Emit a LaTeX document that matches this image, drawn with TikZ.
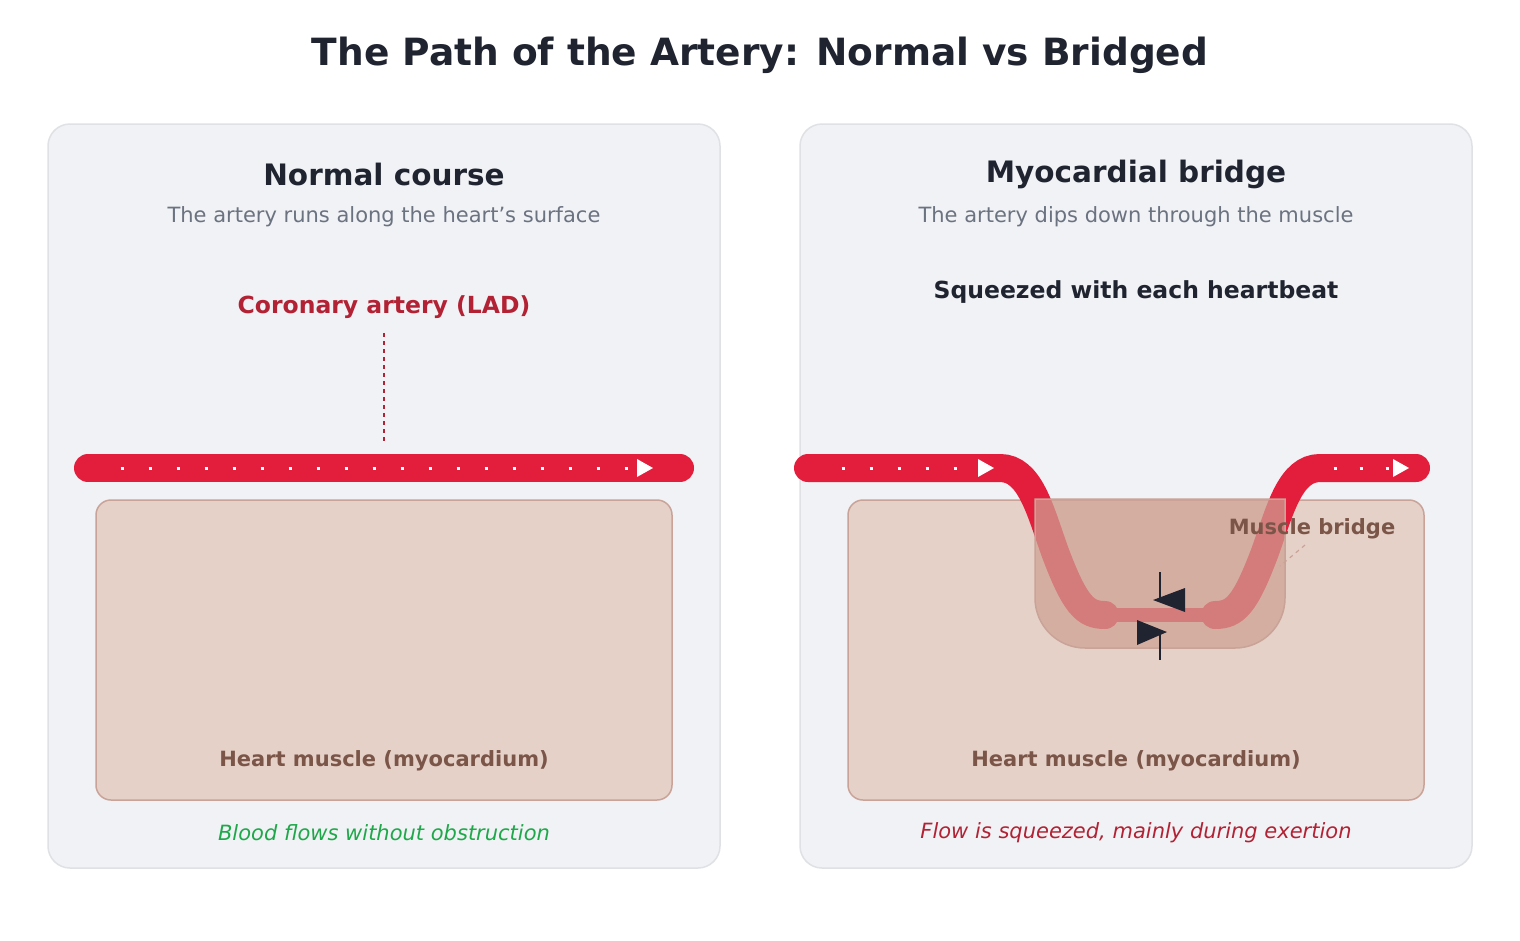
\documentclass[tikz,border=0pt]{standalone}
\usepackage{fontspec}
\setmainfont{DejaVu Sans}
\begin{document}
\begin{tikzpicture}[x=1pt,y=-1pt,
  panel/.style={draw=panelbd,fill=panelbg,line width=1.5pt,rounded corners=22pt},
  muscle/.style={draw=musclebd,fill=musclebg,line width=1.5pt,rounded corners=15pt},
  artery/.style={draw=art,line width=28pt,line cap=round},
  dots/.style={draw=white,line width=3pt,dash pattern=on 3pt off 25pt},
  txt/.style={inner sep=0pt,anchor=center}]
\definecolor{panelbg}{HTML}{F0F2F5}\definecolor{panelbd}{HTML}{DFE1E5}
\definecolor{musclebg}{HTML}{E6D1C8}\definecolor{musclebd}{HTML}{C9A398}
\definecolor{art}{HTML}{E31E3C}\definecolor{dred}{HTML}{B22234}
\definecolor{brown}{HTML}{7A5548}\definecolor{ink}{HTML}{1F2430}
\definecolor{grey}{HTML}{6B7280}\definecolor{green}{HTML}{1FA84A}
\definecolor{bridge}{HTML}{CFA194}
\fill[white] (0,0) rectangle (1520,940);
\useasboundingbox (0,0) rectangle (1520,940);
\node[txt,font=\bfseries\fontsize{37.5}{42}\selectfont,text=ink] (title) at (760,55) {The Path of the Artery: Normal vs Bridged};
% left panel
\draw[panel] (48,124) rectangle (720,868);
\node[txt,font=\bfseries\fontsize{29.5}{34}\selectfont,text=ink] (lt) at (384,174) {Normal course};
\node[txt,font=\fontsize{21}{24}\selectfont,text=grey] (ls) at (384,217) {The artery runs along the heart{\char"27}s surface};
\node[txt,font=\bfseries\fontsize{23.5}{27}\selectfont,text=dred] (lad) at (384,307) {Coronary artery (LAD)};
\coordinate (lda) at (384,333); \coordinate (ldb) at (384,443);
\draw[dred,line width=1.5pt,dash pattern=on 4pt off 4pt] (lda) -- (ldb);
\draw[muscle] (96,500) rectangle (672,800);
\node[txt,font=\bfseries\fontsize{21}{24}\selectfont,text=brown] (lm) at (384,761) {Heart muscle (myocardium)};
\coordinate (la) at (88,468); \coordinate (lb) at (680,468);
\draw[artery] (la) -- (lb);
\draw[dots] (120.5,468) -- (630,468);
\fill[white] (637,459) -- (653,468) -- (637,477) -- cycle;
\node[txt,font=\itshape\fontsize{21}{24}\selectfont,text=green] (lc) at (384,833) {Blood flows without obstruction};
% right panel
\draw[panel] (800,124) rectangle (1472,868);
\node[txt,font=\bfseries\fontsize{29.5}{34}\selectfont,text=ink] (rt) at (1136,174) {Myocardial bridge};
\node[txt,font=\fontsize{21}{24}\selectfont,text=grey] (rs) at (1136,217) {The artery dips down through the muscle};
\node[txt,font=\bfseries\fontsize{23.5}{27}\selectfont,text=ink] (sq) at (1136,292) {Squeezed with each heartbeat};
\draw[muscle] (848,500) rectangle (1424,800);
\node[txt,font=\bfseries\fontsize{21}{24}\selectfont,text=brown] (rm) at (1136,761) {Heart muscle (myocardium)};
\draw[artery] (808,468) -- (1000,468) .. controls (1030,468) and (1040,510) .. (1055,552) .. controls (1075,605) and (1085,615) .. (1105,615);
\draw[artery] (1215,615) .. controls (1235,615) and (1245,605) .. (1265,552) .. controls (1280,510) and (1290,468) .. (1320,468) -- (1416,468);
\draw[art,line width=14pt] (1105,615) -- (1215,615);
\draw[dots] (841.5,468) -- (975,468);
\fill[white] (978,459) -- (994,468) -- (978,477) -- cycle;
\draw[white,line width=3pt,dash pattern=on 3pt off 23pt] (1333.5,468) -- (1390,468);
\fill[white] (1393,459) -- (1409,468) -- (1393,477) -- cycle;
\draw[draw=musclebd,fill=bridge,fill opacity=0.72,line width=1.5pt] (1035,499) -- (1285,499) -- (1285,598) arc[start angle=0,end angle=90,radius=50] -- (1085,648) arc[start angle=90,end angle=180,radius=50] -- cycle;
\node[txt,font=\bfseries\fontsize{21}{24}\selectfont,text=brown] (mb) at (1312,529) {Muscle bridge};
\coordinate (mba) at (1305,545); \coordinate (mbb) at (1280,566);
\draw[musclebd,line width=1.2pt,dash pattern=on 4pt off 4pt] (mba) -- (mbb);
\draw[ink,line width=2.5pt] (1160,572) -- (1160,600);
\fill[ink] (1153,600) -- (1185,588) -- (1185,612) -- cycle;
\draw[ink,line width=2.5pt] (1160,632) -- (1160,660);
\fill[ink] (1167,632) -- (1137,620) -- (1137,645) -- cycle;
\node[txt,font=\itshape\fontsize{21}{24}\selectfont,text=dred] (rc) at (1136,833) {Flow is squeezed, mainly during exertion};
\end{tikzpicture}
\end{document}
